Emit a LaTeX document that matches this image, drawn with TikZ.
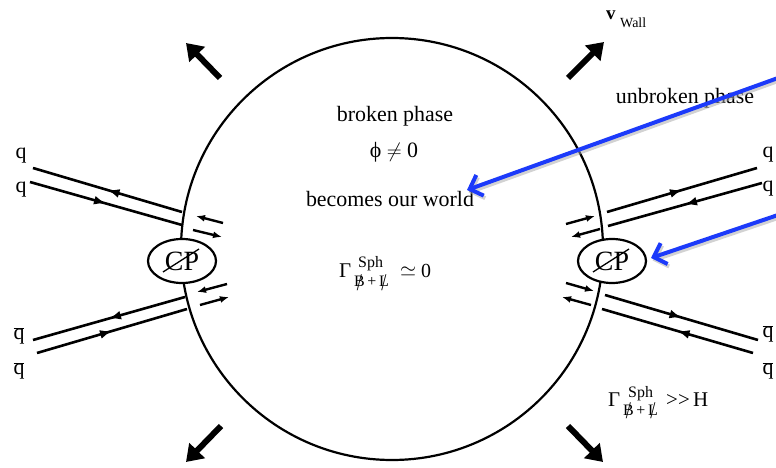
\documentclass[tikz,border=0pt]{standalone}
\usepackage{fontspec}
\setmainfont{Liberation Serif}
\usetikzlibrary{arrows.meta,decorations.markings,shapes.geometric}
\definecolor{callout}{RGB}{28,58,250}
\newcommand{\slashedchar}[1]{\ooalign{#1\cr\hidewidth\raisebox{-0.45ex}{\scalebox{1.15}[1.5]{/}}\hidewidth\cr}}
\tikzset{
 x=1bp, y=-1bp,
 quark/.style={line width=2.6bp, postaction={decorate},
   decoration={markings, mark=at position 0.5 with {\arrow{Latex[length=12bp,width=9bp]}}}},
 spinarrow/.style={line width=2.4bp, -{Latex[length=9bp,width=7bp]}},
 wallarrow/.style={line width=6bp, -{Triangle[length=16bp,width=21bp]}},
 callarrow/.style={line width=4bp, callout, line cap=round,
   -{Straight Barb[length=11bp,width=22bp,line width=4bp]}},
 shadowarrow/.style={line width=4bp, black!35, opacity=0.5,
   -{Straight Barb[length=11bp,width=22bp,line width=4bp]}},
 lbl/.style={inner sep=0pt, font=\fontsize{22}{24}\selectfont},
 gam/.style={inner sep=0pt, anchor=base west, font=\fontsize{#1}{#1}\selectfont},
 scr/.style={inner sep=0pt, anchor=base west, font=\fontsize{16}{16}\selectfont},
 cpnode/.style={ellipse, draw, line width=2.2bp, fill=white, minimum width=68bp,
   minimum height=44bp, inner sep=0pt, font=\fontsize{28}{30}\selectfont},
}
\begin{document}
\begin{tikzpicture}
\useasboundingbox (0,0) rectangle (776,468);
% bubble wall
\node[circle, draw, line width=2.2bp, minimum size=422bp, inner sep=0pt] (wall) at (392,249) {};
% quark lines left upper
\coordinate (lua) at (33,168); \coordinate (lub) at (182,212);
\coordinate (lva) at (30,182);  \coordinate (lvb) at (182,225);
\draw[quark] (lub) -- (lua);
\draw[quark] (lva) -- (lvb);
% left lower
\coordinate (lla) at (185,297); \coordinate (llb) at (33,340);
\coordinate (lma) at (37,353);  \coordinate (lmb) at (187,309);
\draw[quark] (lla) -- (llb);
\draw[quark] (lma) -- (lmb);
% right upper
\coordinate (rua) at (607,212); \coordinate (rub) at (757,168);
\coordinate (rva) at (762,183); \coordinate (rvb) at (608,226);
\draw[quark] (rua) -- (rub);
\draw[quark] (rva) -- (rvb);
% right lower
\coordinate (rla) at (605,295); \coordinate (rlb) at (758,340);
\coordinate (rma) at (753,353); \coordinate (rmb) at (602,309);
\draw[quark] (rla) -- (rlb);
\draw[quark] (rma) -- (rmb);
% small spin arrows
\coordinate (s1a) at (223,223); \coordinate (s1b) at (196,216);
\coordinate (s2a) at (193,230); \coordinate (s2b) at (222,237);
\coordinate (s3a) at (227,284); \coordinate (s3b) at (197,292);
\coordinate (s4a) at (200,305); \coordinate (s4b) at (229,297);
\coordinate (s5a) at (566,224); \coordinate (s5b) at (595,216);
\coordinate (s6a) at (600,229); \coordinate (s6b) at (571,237);
\coordinate (s7a) at (566,283); \coordinate (s7b) at (594,291);
\coordinate (s8a) at (591,305); \coordinate (s8b) at (562,297);
\foreach \i in {1,...,8} {\draw[spinarrow] (s\i a) -- (s\i b);}
% CP vertices
\node[cpnode] (cpl) at (182,261) {CP};
\draw[line width=1.3bp] ([shift={(-19,11)}]cpl.center) -- ([shift={(17,-12)}]cpl.center);
\node[cpnode] (cpr) at (612,261) {CP};
\draw[line width=1.3bp] ([shift={(-19,11)}]cpr.center) -- ([shift={(17,-12)}]cpr.center);
% wall velocity arrows
\coordinate (w1a) at (220,78);  \coordinate (w1b) at (186,43);
\coordinate (w2a) at (568,78);  \coordinate (w2b) at (604,42);
\coordinate (w3a) at (221,426); \coordinate (w3b) at (186,462);
\coordinate (w4a) at (568,426); \coordinate (w4b) at (603,462);
\foreach \i in {1,...,4} {\draw[wallarrow] (w\i a) -- (w\i b);}
% labels
\node[lbl, anchor=base] (t1) at (395,122) {broken phase};
\node[lbl, anchor=base] (t2) at (394,158) {ϕ $\neq$ 0};
\node[lbl, anchor=base] (t3) at (390,207) {becomes our world};
\node[lbl, anchor=base] (t4) at (685,104) {unbroken phase};
% sphaleron rate inside
\node[gam=21] (g1) at (339,278) {Γ};
\node[scr] (g1s) at (358,268) {Sph};
\node[scr] (g1b) at (354,287) {\slashedchar{B}\,+\,\slashedchar{L}};
\node[gam=20] (g1e) at (400,277) {$\simeq$};
\node[gam=20] (g1z) at (421,278) {0};
% sphaleron rate outside
\node[gam=21] (g2) at (608,406) {Γ};
\node[scr] (g2s) at (628,397) {Sph};
\node[scr] (g2b) at (623,415) {\slashedchar{B}\,+\,\slashedchar{L}};
\node[gam=21] (g2r) at (666,406) {>{}>};
\node[gam=21] (g2h) at (693,406) {H};
% wall velocity label
\node[inner sep=0pt, anchor=base west, font=\fontsize{19}{20}\selectfont\bfseries] (vw) at (606,20) {v};
\node[inner sep=0pt, anchor=base west, font=\fontsize{14}{15}\selectfont] (vw2) at (620,28) {Wall};
% quark labels
\node[lbl, anchor=base] (q1) at (21,159) {q};
\node[lbl, anchor=base] (q2) at (21,193) {q};
\node[lbl, anchor=base] (q3) at (768,158) {q};
\node[lbl, anchor=base] (q4) at (768,192) {q};
\node[lbl, anchor=base] (q5) at (19,340) {$\overline{\mbox{q}}$};
\node[lbl, anchor=base] (q6) at (19,375) {$\overline{\mbox{q}}$};
\node[lbl, anchor=base] (q7) at (768,338) {$\overline{\mbox{q}}$};
\node[lbl, anchor=base] (q8) at (768,375) {$\overline{\mbox{q}}$};
% blue callouts
\coordinate (b1a) at (778,78); \coordinate (b1b) at (467,190);
\coordinate (b2a) at (778,215); \coordinate (b2b) at (651,258);
\draw[shadowarrow] ([shift={(1.5,2.5)}]b1a) -- ([shift={(1.5,2.5)}]b1b);
\draw[shadowarrow] ([shift={(1.5,2.5)}]b2a) -- ([shift={(1.5,2.5)}]b2b);
\draw[callarrow] (b1a) -- (b1b);
\draw[callarrow] (b2a) -- (b2b);
\end{tikzpicture}
\end{document}
